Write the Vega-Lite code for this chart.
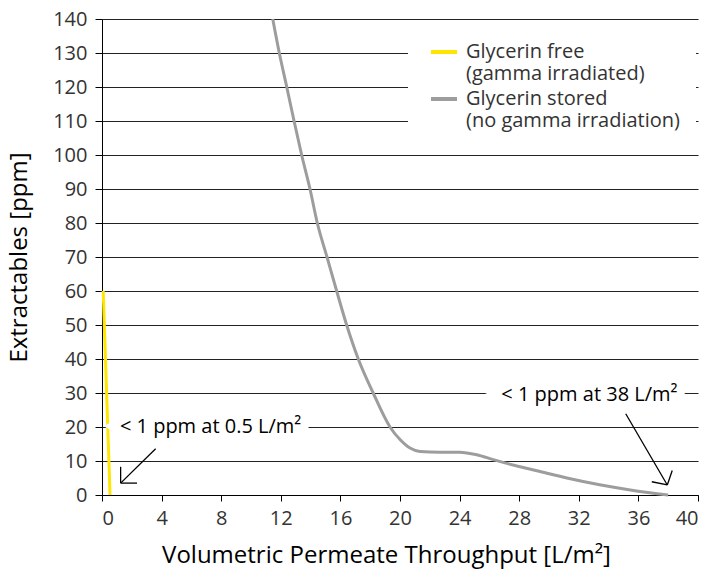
{
  "$schema": "https://vega.github.io/schema/vega-lite/v6.json",
  "width": 596,
  "height": 476,
  "autosize": {"type": "none"},
  "padding": {"left": 102, "top": 19, "right": 15, "bottom": 78},
  "background": "white",
  "config": {"view": {"stroke": null}, "font": "Open Sans"},
  "datasets": {
    "curves": [
      {"series": "Glycerin free", "x": 0.08, "y": 60},
      {"series": "Glycerin free", "x": 0.54, "y": 0},
      {"series": "Glycerin stored", "x": 11.46, "y": 140},
      {"series": "Glycerin stored", "x": 11.9, "y": 130},
      {"series": "Glycerin stored", "x": 12.4, "y": 120},
      {"series": "Glycerin stored", "x": 12.89, "y": 110},
      {"series": "Glycerin stored", "x": 13.4, "y": 100},
      {"series": "Glycerin stored", "x": 13.96, "y": 90},
      {"series": "Glycerin stored", "x": 14.45, "y": 80},
      {"series": "Glycerin stored", "x": 15.1, "y": 70},
      {"series": "Glycerin stored", "x": 15.75, "y": 60},
      {"series": "Glycerin stored", "x": 16.42, "y": 50},
      {"series": "Glycerin stored", "x": 17.2, "y": 40},
      {"series": "Glycerin stored", "x": 18.2, "y": 30},
      {"series": "Glycerin stored", "x": 19.33, "y": 20},
      {"series": "Glycerin stored", "x": 20.0, "y": 16.3},
      {"series": "Glycerin stored", "x": 20.67, "y": 13.8},
      {"series": "Glycerin stored", "x": 21.34, "y": 12.8},
      {"series": "Glycerin stored", "x": 22.68, "y": 12.6},
      {"series": "Glycerin stored", "x": 24.0, "y": 12.6},
      {"series": "Glycerin stored", "x": 25.15, "y": 11.85},
      {"series": "Glycerin stored", "x": 26.26, "y": 10.4},
      {"series": "Glycerin stored", "x": 28.05, "y": 8.3},
      {"series": "Glycerin stored", "x": 29.4, "y": 6.9},
      {"series": "Glycerin stored", "x": 31.2, "y": 5.0},
      {"series": "Glycerin stored", "x": 33.4, "y": 3.0},
      {"series": "Glycerin stored", "x": 35.66, "y": 1.35},
      {"series": "Glycerin stored", "x": 38.0, "y": 0}
    ],
    "notes": [
      {"label": "< 1 ppm at 0.5 L/m²", "x": 1.2, "y": 20},
      {"label": "< 1 ppm at 38 L/m²", "x": 26.8, "y": 29.5}
    ],
    "arrows": [
      {"x": 3.6, "y": 13.6, "x2": 1.25, "y2": 3.5},
      {"x": 1.25, "y": 3.5, "x2": 1.25, "y2": 8.3},
      {"x": 1.25, "y": 3.5, "x2": 2.35, "y2": 3.5},
      {"x": 35.15, "y": 23.9, "x2": 37.94, "y2": 2.95},
      {"x": 37.94, "y": 2.95, "x2": 38.27, "y2": 7.2},
      {"x": 37.94, "y": 2.95, "x2": 36.9, "y2": 3.9}
    ]
  },
  "encoding": {
    "x": {
      "field": "x", "type": "quantitative",
      "scale": {"domain": [0, 40], "nice": false},
      "axis": {
        "values": [0, 4, 8, 12, 16, 20, 24, 28, 32, 36, 40],
        "grid": false, "labelOverlap": false,
        "domainColor": "#000", "tickColor": "#000", "tickSize": 6,
        "labelFontSize": 20, "labelColor": "#333", "labelPadding": 7,
        "title": "Volumetric Permeate Throughput [L/m²]",
        "titleFontSize": 24, "titleFontWeight": 500, "titleColor": "#000", "titlePadding": 15,
        "titleX": 284
      }
    },
    "y": {
      "field": "y", "type": "quantitative",
      "scale": {"domain": [0, 140], "nice": false},
      "axis": {
        "values": [0, 10, 20, 30, 40, 50, 60, 70, 80, 90, 100, 110, 120, 130, 140],
        "grid": true, "gridColor": "#222", "gridWidth": 1.2, "gridOpacity": 1,
        "labelOverlap": false,
        "domainColor": "#000", "tickColor": "#000", "tickSize": 7,
        "labelFontSize": 20, "labelColor": "#333", "labelPadding": 8,
        "title": "Extractables [ppm]",
        "titleFontSize": 24, "titleFontWeight": 500, "titleColor": "#000", "titlePadding": 21
      }
    }
  },
  "layer": [
    {
      "data": {"name": "curves"},
      "mark": {"type": "line", "interpolate": "monotone", "strokeWidth": 3},
      "encoding": {
        "color": {
          "field": "series", "type": "nominal",
          "scale": {"domain": ["Glycerin free", "Glycerin stored"], "range": ["#ffe600", "#9d9d9d"]},
          "legend": {
            "title": null,
            "orient": "none", "legendX": 306, "legendY": 2,
            "fillColor": "white", "padding": 16,
            "symbolType": "stroke", "symbolSize": 676, "symbolStrokeWidth": 4, "symbolOffset": 5,
            "labelExpr": "datum.label == 'Glycerin free' ? ['Glycerin free', '(gamma irradiated)'] : ['Glycerin stored', '(no gamma irradiation)']",
            "labelFontSize": 20, "labelColor": "#333", "labelLimit": 400, "labelOffset": 7,
            "labelBaseline": "middle", "rowPadding": 0
          }
        }
      }
    },
    {
      "data": {"name": "notes"},
      "mark": {"type": "text", "align": "left", "baseline": "middle", "fontSize": 20, "fontWeight": 500, "stroke": "white", "strokeWidth": 16, "fill": "white"},
      "encoding": {"text": {"field": "label"}}
    },
    {
      "data": {"name": "notes"},
      "mark": {"type": "text", "align": "left", "baseline": "middle", "fontSize": 20, "fontWeight": 500, "color": "#000"},
      "encoding": {"text": {"field": "label"}}
    },
    {
      "data": {"name": "arrows"},
      "mark": {"type": "rule", "color": "#000", "strokeWidth": 1.3},
      "encoding": {
        "x2": {"field": "x2"},
        "y2": {"field": "y2"}
      }
    }
  ]
}
